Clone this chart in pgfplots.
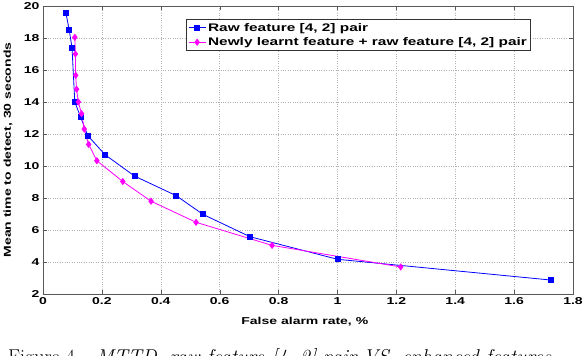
\documentclass[border=0pt]{standalone}
\usepackage{fontspec}
\usepackage{pgfplots}
\pgfplotsset{compat=1.18}
\newfontfamily\lab{Liberation Sans}[FakeStretch=1.4]
\definecolor{mblue}{RGB}{0,0,255}
\definecolor{mmag}{RGB}{255,0,255}
\begin{document}
\begin{tikzpicture}
\useasboundingbox (-43pt,-62pt) rectangle (541pt,294pt);
\clip (-43pt,-62pt) rectangle (541pt,294pt);
\begin{axis}[
  at={(0pt,0pt)}, anchor=south west,
  scale only axis, width=530pt, height=288pt,
  xmin=0, xmax=1.8, ymin=2, ymax=20,
  xtick={0,0.2,...,1.8}, ytick={2,4,...,20},
  xticklabels={0,0.2,0.4,0.6,0.8,1,1.2,1.4,1.6,1.8},
  grid=major,
  major grid style={dotted, gray!60},
  tick align=inside, major tick length=4pt,
  tick style={gray!70!black},
  axis line style={gray!70!black},
  /pgf/number format/assume math mode=true,
  ticklabel style={font=\lab\bfseries\fontsize{10}{12}\selectfont},
  xlabel={False alarm rate, \%},
  ylabel={Mean time to detect, 30 seconds},
  every axis x label/.style={at={(axis description cs:0.494,-0.097)}, anchor=center, font=\lab\bfseries\fontsize{10}{12}\selectfont},
  every axis y label/.style={at={(axis description cs:-0.066,0.5)}, rotate=90, anchor=center, font=\lab\bfseries\fontsize{10}{12}\selectfont},
  legend style={at={(axis description cs:0.27,0.955)}, anchor=north west,
    draw=gray!40!black, line width=0.6pt, fill=white,
    font=\lab\bfseries\fontsize{11}{12.5}\selectfont,
    inner sep=1.8pt, row sep=1pt},
  legend cell align=left,
]
\addplot[color=mblue, line width=0.8pt, mark=square*, mark size=2.5pt, mark options={solid}] coordinates {
(0.078,19.55) (0.089,18.5) (0.0985,17.4) (0.108,14.0) (0.128,13.05)
(0.152,11.9) (0.211,10.7) (0.311,9.37) (0.452,8.15) (0.543,6.98)
(0.703,5.58) (1.0,4.17) (1.726,2.87)
};
\addlegendentry{Raw feature [4, 2] pair}
\addplot[color=mmag, line width=0.8pt, mark=diamond*, mark size=3pt, mark options={solid}] coordinates {
(0.108,18.04) (0.11,17.0) (0.111,15.67) (0.114,14.8) (0.12,14.0)
(0.131,13.27) (0.140,12.31) (0.155,11.35) (0.183,10.33) (0.271,9.03)
(0.367,7.8) (0.52,6.48) (0.778,5.04) (1.215,3.69)
};
\addlegendentry{Newly learnt feature + raw feature [4, 2] pair}
\end{axis}
\node[anchor=base west, inner sep=0pt, font=\fontsize{20}{22}\selectfont] at (-35pt,-69pt)
  {Figure 4 -- \textit{MTTD, raw feature [4, 2] pair VS. enhanced features}};
\end{tikzpicture}
\end{document}
